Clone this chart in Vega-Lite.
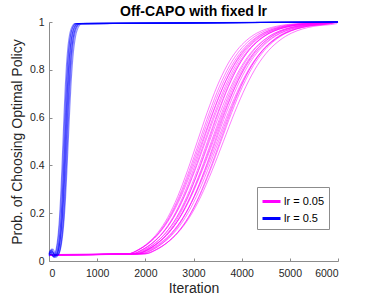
{
"$schema":"https://vega.github.io/schema/vega-lite/v6.json",
"autosize":{"type":"none"},
"width":289,"height":239,
"padding":{"left":49,"top":22,"right":36,"bottom":38},
"background":"white",
"config":{"view":{"stroke":null},"font":"Liberation Sans",
"axis":{"grid":false,"domainColor":"#8c8c8c","tickColor":"#8c8c8c","labelColor":"#262626","titleColor":"#262626","labelFont":"Liberation Sans","titleFont":"Liberation Sans","labelFontSize":10.5,"titleFontSize":14,"titleFontWeight":"normal","tickSize":-3,"domainWidth":1}},
"title":{"text":"Off-CAPO with fixed lr","font":"Liberation Sans","fontSize":14,"fontWeight":"bold","color":"#000000","frame":"group","anchor":"middle","offset":-2},
"datasets":{
"m":[
{"r":1,"x":0,"y":0.025},{"r":1,"x":1645,"y":0.03},{"r":1,"x":1850,"y":0.047},{"r":1,"x":2055,"y":0.076},{"r":1,"x":2260,"y":0.119},{"r":1,"x":2465,"y":0.182},{"r":1,"x":2670,"y":0.269},{"r":1,"x":2875,"y":0.378},{"r":1,"x":3080,"y":0.5},{"r":1,"x":3285,"y":0.622},{"r":1,"x":3490,"y":0.731},{"r":1,"x":3695,"y":0.818},{"r":1,"x":3900,"y":0.881},{"r":1,"x":4105,"y":0.924},{"r":1,"x":4310,"y":0.953},{"r":1,"x":4515,"y":0.971},{"r":1,"x":4720,"y":0.982},{"r":1,"x":5130,"y":0.993},{"r":1,"x":6000,"y":1},
{"r":2,"x":0,"y":0.026},{"r":2,"x":1645,"y":0.03},{"r":2,"x":1860,"y":0.047},{"r":2,"x":2075,"y":0.076},{"r":2,"x":2290,"y":0.119},{"r":2,"x":2505,"y":0.182},{"r":2,"x":2720,"y":0.269},{"r":2,"x":2935,"y":0.378},{"r":2,"x":3150,"y":0.5},{"r":2,"x":3365,"y":0.622},{"r":2,"x":3580,"y":0.731},{"r":2,"x":3795,"y":0.818},{"r":2,"x":4010,"y":0.881},{"r":2,"x":4225,"y":0.924},{"r":2,"x":4440,"y":0.953},{"r":2,"x":4655,"y":0.971},{"r":2,"x":4870,"y":0.982},{"r":2,"x":5300,"y":0.993},{"r":2,"x":6000,"y":1},
{"r":3,"x":0,"y":0.027},{"r":3,"x":1730,"y":0.03},{"r":3,"x":1940,"y":0.047},{"r":3,"x":2150,"y":0.076},{"r":3,"x":2360,"y":0.119},{"r":3,"x":2570,"y":0.182},{"r":3,"x":2780,"y":0.269},{"r":3,"x":2990,"y":0.378},{"r":3,"x":3200,"y":0.5},{"r":3,"x":3410,"y":0.622},{"r":3,"x":3620,"y":0.731},{"r":3,"x":3830,"y":0.818},{"r":3,"x":4040,"y":0.881},{"r":3,"x":4250,"y":0.924},{"r":3,"x":4460,"y":0.953},{"r":3,"x":4670,"y":0.971},{"r":3,"x":4880,"y":0.982},{"r":3,"x":5300,"y":0.993},{"r":3,"x":6000,"y":1},
{"r":4,"x":0,"y":0.025},{"r":4,"x":1710,"y":0.03},{"r":4,"x":1930,"y":0.047},{"r":4,"x":2150,"y":0.076},{"r":4,"x":2370,"y":0.119},{"r":4,"x":2590,"y":0.182},{"r":4,"x":2810,"y":0.269},{"r":4,"x":3030,"y":0.378},{"r":4,"x":3250,"y":0.5},{"r":4,"x":3470,"y":0.622},{"r":4,"x":3690,"y":0.731},{"r":4,"x":3910,"y":0.818},{"r":4,"x":4130,"y":0.881},{"r":4,"x":4350,"y":0.924},{"r":4,"x":4570,"y":0.953},{"r":4,"x":4790,"y":0.971},{"r":4,"x":5010,"y":0.982},{"r":4,"x":5450,"y":0.993},{"r":4,"x":6000,"y":1},
{"r":5,"x":0,"y":0.024},{"r":5,"x":1785,"y":0.03},{"r":5,"x":2000,"y":0.047},{"r":5,"x":2215,"y":0.076},{"r":5,"x":2430,"y":0.119},{"r":5,"x":2645,"y":0.182},{"r":5,"x":2860,"y":0.269},{"r":5,"x":3075,"y":0.378},{"r":5,"x":3290,"y":0.5},{"r":5,"x":3505,"y":0.622},{"r":5,"x":3720,"y":0.731},{"r":5,"x":3935,"y":0.818},{"r":5,"x":4150,"y":0.881},{"r":5,"x":4365,"y":0.924},{"r":5,"x":4580,"y":0.953},{"r":5,"x":4795,"y":0.971},{"r":5,"x":5010,"y":0.982},{"r":5,"x":5440,"y":0.993},{"r":5,"x":6000,"y":1},
{"r":6,"x":0,"y":0.026},{"r":6,"x":1755,"y":0.03},{"r":6,"x":1980,"y":0.047},{"r":6,"x":2205,"y":0.076},{"r":6,"x":2430,"y":0.119},{"r":6,"x":2655,"y":0.182},{"r":6,"x":2880,"y":0.269},{"r":6,"x":3105,"y":0.378},{"r":6,"x":3330,"y":0.5},{"r":6,"x":3555,"y":0.622},{"r":6,"x":3780,"y":0.731},{"r":6,"x":4005,"y":0.818},{"r":6,"x":4230,"y":0.881},{"r":6,"x":4455,"y":0.924},{"r":6,"x":4680,"y":0.953},{"r":6,"x":4905,"y":0.971},{"r":6,"x":5130,"y":0.982},{"r":6,"x":5580,"y":0.993},{"r":6,"x":6000,"y":1},
{"r":7,"x":0,"y":0.027},{"r":7,"x":1830,"y":0.03},{"r":7,"x":2050,"y":0.047},{"r":7,"x":2270,"y":0.076},{"r":7,"x":2490,"y":0.119},{"r":7,"x":2710,"y":0.182},{"r":7,"x":2930,"y":0.269},{"r":7,"x":3150,"y":0.378},{"r":7,"x":3370,"y":0.5},{"r":7,"x":3590,"y":0.622},{"r":7,"x":3810,"y":0.731},{"r":7,"x":4030,"y":0.818},{"r":7,"x":4250,"y":0.881},{"r":7,"x":4470,"y":0.924},{"r":7,"x":4690,"y":0.953},{"r":7,"x":4910,"y":0.971},{"r":7,"x":5130,"y":0.982},{"r":7,"x":5570,"y":0.993},{"r":7,"x":6000,"y":1},
{"r":8,"x":0,"y":0.025},{"r":8,"x":1800,"y":0.03},{"r":8,"x":2030,"y":0.047},{"r":8,"x":2260,"y":0.076},{"r":8,"x":2490,"y":0.119},{"r":8,"x":2720,"y":0.182},{"r":8,"x":2950,"y":0.269},{"r":8,"x":3180,"y":0.378},{"r":8,"x":3410,"y":0.5},{"r":8,"x":3640,"y":0.622},{"r":8,"x":3870,"y":0.731},{"r":8,"x":4100,"y":0.818},{"r":8,"x":4330,"y":0.881},{"r":8,"x":4560,"y":0.924},{"r":8,"x":4790,"y":0.953},{"r":8,"x":5020,"y":0.971},{"r":8,"x":5250,"y":0.982},{"r":8,"x":5710,"y":0.993},{"r":8,"x":6000,"y":1},
{"r":9,"x":0,"y":0.026},{"r":9,"x":1885,"y":0.03},{"r":9,"x":2110,"y":0.047},{"r":9,"x":2335,"y":0.076},{"r":9,"x":2560,"y":0.119},{"r":9,"x":2785,"y":0.182},{"r":9,"x":3010,"y":0.269},{"r":9,"x":3235,"y":0.378},{"r":9,"x":3460,"y":0.5},{"r":9,"x":3685,"y":0.622},{"r":9,"x":3910,"y":0.731},{"r":9,"x":4135,"y":0.818},{"r":9,"x":4360,"y":0.881},{"r":9,"x":4585,"y":0.924},{"r":9,"x":4810,"y":0.953},{"r":9,"x":5035,"y":0.971},{"r":9,"x":5260,"y":0.982},{"r":9,"x":5710,"y":0.993},{"r":9,"x":6000,"y":1},
{"r":10,"x":0,"y":0.024},{"r":10,"x":1910,"y":0.03},{"r":10,"x":2140,"y":0.047},{"r":10,"x":2370,"y":0.076},{"r":10,"x":2600,"y":0.119},{"r":10,"x":2830,"y":0.182},{"r":10,"x":3060,"y":0.269},{"r":10,"x":3290,"y":0.378},{"r":10,"x":3520,"y":0.5},{"r":10,"x":3750,"y":0.622},{"r":10,"x":3980,"y":0.731},{"r":10,"x":4210,"y":0.818},{"r":10,"x":4440,"y":0.881},{"r":10,"x":4670,"y":0.924},{"r":10,"x":4900,"y":0.953},{"r":10,"x":5130,"y":0.971},{"r":10,"x":5360,"y":0.982},{"r":10,"x":5820,"y":0.993},{"r":10,"x":6000,"y":1},
{"r":11,"x":0,"y":0.026},{"r":11,"x":1995,"y":0.03},{"r":11,"x":2220,"y":0.047},{"r":11,"x":2445,"y":0.076},{"r":11,"x":2670,"y":0.119},{"r":11,"x":2895,"y":0.182},{"r":11,"x":3120,"y":0.269},{"r":11,"x":3345,"y":0.378},{"r":11,"x":3570,"y":0.5},{"r":11,"x":3795,"y":0.622},{"r":11,"x":4020,"y":0.731},{"r":11,"x":4245,"y":0.818},{"r":11,"x":4470,"y":0.881},{"r":11,"x":4695,"y":0.924},{"r":11,"x":4920,"y":0.953},{"r":11,"x":5145,"y":0.971},{"r":11,"x":5370,"y":0.982},{"r":11,"x":5820,"y":0.993},{"r":11,"x":6000,"y":1},
{"r":12,"x":0,"y":0.027},{"r":12,"x":1975,"y":0.03},{"r":12,"x":2210,"y":0.047},{"r":12,"x":2445,"y":0.076},{"r":12,"x":2680,"y":0.119},{"r":12,"x":2915,"y":0.182},{"r":12,"x":3150,"y":0.269},{"r":12,"x":3385,"y":0.378},{"r":12,"x":3620,"y":0.5},{"r":12,"x":3855,"y":0.622},{"r":12,"x":4090,"y":0.731},{"r":12,"x":4325,"y":0.818},{"r":12,"x":4560,"y":0.881},{"r":12,"x":4795,"y":0.924},{"r":12,"x":5030,"y":0.953},{"r":12,"x":5265,"y":0.971},{"r":12,"x":5500,"y":0.982},{"r":12,"x":5970,"y":0.993},{"r":12,"x":6000,"y":1},
{"r":13,"x":0,"y":0.025},{"r":13,"x":1650,"y":0.03},{"r":13,"x":1860,"y":0.047},{"r":13,"x":2070,"y":0.076},{"r":13,"x":2280,"y":0.119},{"r":13,"x":2490,"y":0.182},{"r":13,"x":2700,"y":0.269},{"r":13,"x":2910,"y":0.378},{"r":13,"x":3120,"y":0.5},{"r":13,"x":3330,"y":0.622},{"r":13,"x":3540,"y":0.731},{"r":13,"x":3750,"y":0.818},{"r":13,"x":3960,"y":0.881},{"r":13,"x":4170,"y":0.924},{"r":13,"x":4380,"y":0.953},{"r":13,"x":4590,"y":0.971},{"r":13,"x":4800,"y":0.982},{"r":13,"x":5220,"y":0.993},{"r":13,"x":6000,"y":1},
{"r":14,"x":0,"y":0.026},{"r":14,"x":1640,"y":0.03},{"r":14,"x":1860,"y":0.047},{"r":14,"x":2080,"y":0.076},{"r":14,"x":2300,"y":0.119},{"r":14,"x":2520,"y":0.182},{"r":14,"x":2740,"y":0.269},{"r":14,"x":2960,"y":0.378},{"r":14,"x":3180,"y":0.5},{"r":14,"x":3400,"y":0.622},{"r":14,"x":3620,"y":0.731},{"r":14,"x":3840,"y":0.818},{"r":14,"x":4060,"y":0.881},{"r":14,"x":4280,"y":0.924},{"r":14,"x":4500,"y":0.953},{"r":14,"x":4720,"y":0.971},{"r":14,"x":4940,"y":0.982},{"r":14,"x":5380,"y":0.993},{"r":14,"x":6000,"y":1},
{"r":15,"x":0,"y":0.025},{"r":15,"x":1725,"y":0.03},{"r":15,"x":1940,"y":0.047},{"r":15,"x":2155,"y":0.076},{"r":15,"x":2370,"y":0.119},{"r":15,"x":2585,"y":0.182},{"r":15,"x":2800,"y":0.269},{"r":15,"x":3015,"y":0.378},{"r":15,"x":3230,"y":0.5},{"r":15,"x":3445,"y":0.622},{"r":15,"x":3660,"y":0.731},{"r":15,"x":3875,"y":0.818},{"r":15,"x":4090,"y":0.881},{"r":15,"x":4305,"y":0.924},{"r":15,"x":4520,"y":0.953},{"r":15,"x":4735,"y":0.971},{"r":15,"x":4950,"y":0.982},{"r":15,"x":5380,"y":0.993},{"r":15,"x":6000,"y":1},
{"r":16,"x":0,"y":0.027},{"r":16,"x":1840,"y":0.03},{"r":16,"x":2050,"y":0.047},{"r":16,"x":2260,"y":0.076},{"r":16,"x":2470,"y":0.119},{"r":16,"x":2680,"y":0.182},{"r":16,"x":2890,"y":0.269},{"r":16,"x":3100,"y":0.378},{"r":16,"x":3310,"y":0.5},{"r":16,"x":3520,"y":0.622},{"r":16,"x":3730,"y":0.731},{"r":16,"x":3940,"y":0.818},{"r":16,"x":4150,"y":0.881},{"r":16,"x":4360,"y":0.924},{"r":16,"x":4570,"y":0.953},{"r":16,"x":4780,"y":0.971},{"r":16,"x":4990,"y":0.982},{"r":16,"x":5410,"y":0.993},{"r":16,"x":6000,"y":1},
{"r":17,"x":0,"y":0.025},{"r":17,"x":1815,"y":0.03},{"r":17,"x":2040,"y":0.047},{"r":17,"x":2265,"y":0.076},{"r":17,"x":2490,"y":0.119},{"r":17,"x":2715,"y":0.182},{"r":17,"x":2940,"y":0.269},{"r":17,"x":3165,"y":0.378},{"r":17,"x":3390,"y":0.5},{"r":17,"x":3615,"y":0.622},{"r":17,"x":3840,"y":0.731},{"r":17,"x":4065,"y":0.818},{"r":17,"x":4290,"y":0.881},{"r":17,"x":4515,"y":0.924},{"r":17,"x":4740,"y":0.953},{"r":17,"x":4965,"y":0.971},{"r":17,"x":5190,"y":0.982},{"r":17,"x":5640,"y":0.993},{"r":17,"x":6000,"y":1},
{"r":18,"x":0,"y":0.026},{"r":18,"x":1935,"y":0.03},{"r":18,"x":2150,"y":0.047},{"r":18,"x":2365,"y":0.076},{"r":18,"x":2580,"y":0.119},{"r":18,"x":2795,"y":0.182},{"r":18,"x":3010,"y":0.269},{"r":18,"x":3225,"y":0.378},{"r":18,"x":3440,"y":0.5},{"r":18,"x":3655,"y":0.622},{"r":18,"x":3870,"y":0.731},{"r":18,"x":4085,"y":0.818},{"r":18,"x":4300,"y":0.881},{"r":18,"x":4515,"y":0.924},{"r":18,"x":4730,"y":0.953},{"r":18,"x":4945,"y":0.971},{"r":18,"x":5160,"y":0.982},{"r":18,"x":5590,"y":0.993},{"r":18,"x":6000,"y":1},
{"r":19,"x":0,"y":0.025},{"r":19,"x":1845,"y":0.03},{"r":19,"x":2080,"y":0.047},{"r":19,"x":2315,"y":0.076},{"r":19,"x":2550,"y":0.119},{"r":19,"x":2785,"y":0.182},{"r":19,"x":3020,"y":0.269},{"r":19,"x":3255,"y":0.378},{"r":19,"x":3490,"y":0.5},{"r":19,"x":3725,"y":0.622},{"r":19,"x":3960,"y":0.731},{"r":19,"x":4195,"y":0.818},{"r":19,"x":4430,"y":0.881},{"r":19,"x":4665,"y":0.924},{"r":19,"x":4900,"y":0.953},{"r":19,"x":5135,"y":0.971},{"r":19,"x":5370,"y":0.982},{"r":19,"x":5840,"y":0.993},{"r":19,"x":6000,"y":1},
{"r":20,"x":0,"y":0.026},{"r":20,"x":2010,"y":0.03},{"r":20,"x":2230,"y":0.047},{"r":20,"x":2450,"y":0.076},{"r":20,"x":2670,"y":0.119},{"r":20,"x":2890,"y":0.182},{"r":20,"x":3110,"y":0.269},{"r":20,"x":3330,"y":0.378},{"r":20,"x":3550,"y":0.5},{"r":20,"x":3770,"y":0.622},{"r":20,"x":3990,"y":0.731},{"r":20,"x":4210,"y":0.818},{"r":20,"x":4430,"y":0.881},{"r":20,"x":4650,"y":0.924},{"r":20,"x":4870,"y":0.953},{"r":20,"x":5090,"y":0.971},{"r":20,"x":5310,"y":0.982},{"r":20,"x":5750,"y":0.993},{"r":20,"x":6000,"y":1}
],
"b":[
{"r":1,"x":0,"y":0.03},{"r":1,"x":40,"y":0.045},{"r":1,"x":80,"y":0.02},{"r":1,"x":122,"y":0.03},{"r":1,"x":146,"y":0.047},{"r":1,"x":170,"y":0.076},{"r":1,"x":194,"y":0.119},{"r":1,"x":218,"y":0.182},{"r":1,"x":242,"y":0.269},{"r":1,"x":266,"y":0.378},{"r":1,"x":290,"y":0.5},{"r":1,"x":314,"y":0.622},{"r":1,"x":338,"y":0.731},{"r":1,"x":362,"y":0.818},{"r":1,"x":386,"y":0.881},{"r":1,"x":410,"y":0.924},{"r":1,"x":434,"y":0.953},{"r":1,"x":458,"y":0.971},{"r":1,"x":482,"y":0.982},{"r":1,"x":530,"y":0.993},{"r":1,"x":6000,"y":1},
{"r":2,"x":0,"y":0.025},{"r":2,"x":50,"y":0.035},{"r":2,"x":100,"y":0.018},{"r":2,"x":130,"y":0.03},{"r":2,"x":155,"y":0.047},{"r":2,"x":180,"y":0.076},{"r":2,"x":205,"y":0.119},{"r":2,"x":230,"y":0.182},{"r":2,"x":255,"y":0.269},{"r":2,"x":280,"y":0.378},{"r":2,"x":305,"y":0.5},{"r":2,"x":330,"y":0.622},{"r":2,"x":355,"y":0.731},{"r":2,"x":380,"y":0.818},{"r":2,"x":405,"y":0.881},{"r":2,"x":430,"y":0.924},{"r":2,"x":455,"y":0.953},{"r":2,"x":480,"y":0.971},{"r":2,"x":505,"y":0.982},{"r":2,"x":555,"y":0.993},{"r":2,"x":6000,"y":1},
{"r":3,"x":0,"y":0.035},{"r":3,"x":60,"y":0.05},{"r":3,"x":110,"y":0.022},{"r":3,"x":159,"y":0.03},{"r":3,"x":182,"y":0.047},{"r":3,"x":205,"y":0.076},{"r":3,"x":228,"y":0.119},{"r":3,"x":251,"y":0.182},{"r":3,"x":274,"y":0.269},{"r":3,"x":297,"y":0.378},{"r":3,"x":320,"y":0.5},{"r":3,"x":343,"y":0.622},{"r":3,"x":366,"y":0.731},{"r":3,"x":389,"y":0.818},{"r":3,"x":412,"y":0.881},{"r":3,"x":435,"y":0.924},{"r":3,"x":458,"y":0.953},{"r":3,"x":481,"y":0.971},{"r":3,"x":504,"y":0.982},{"r":3,"x":550,"y":0.993},{"r":3,"x":6000,"y":1},
{"r":4,"x":0,"y":0.02},{"r":4,"x":45,"y":0.03},{"r":4,"x":100,"y":0.015},{"r":4,"x":148,"y":0.03},{"r":4,"x":174,"y":0.047},{"r":4,"x":200,"y":0.076},{"r":4,"x":226,"y":0.119},{"r":4,"x":252,"y":0.182},{"r":4,"x":278,"y":0.269},{"r":4,"x":304,"y":0.378},{"r":4,"x":330,"y":0.5},{"r":4,"x":356,"y":0.622},{"r":4,"x":382,"y":0.731},{"r":4,"x":408,"y":0.818},{"r":4,"x":434,"y":0.881},{"r":4,"x":460,"y":0.924},{"r":4,"x":486,"y":0.953},{"r":4,"x":512,"y":0.971},{"r":4,"x":538,"y":0.982},{"r":4,"x":590,"y":0.993},{"r":4,"x":6000,"y":1},
{"r":5,"x":0,"y":0.03},{"r":5,"x":70,"y":0.04},{"r":5,"x":130,"y":0.02},{"r":5,"x":172,"y":0.03},{"r":5,"x":196,"y":0.047},{"r":5,"x":220,"y":0.076},{"r":5,"x":244,"y":0.119},{"r":5,"x":268,"y":0.182},{"r":5,"x":292,"y":0.269},{"r":5,"x":316,"y":0.378},{"r":5,"x":340,"y":0.5},{"r":5,"x":364,"y":0.622},{"r":5,"x":388,"y":0.731},{"r":5,"x":412,"y":0.818},{"r":5,"x":436,"y":0.881},{"r":5,"x":460,"y":0.924},{"r":5,"x":484,"y":0.953},{"r":5,"x":508,"y":0.971},{"r":5,"x":532,"y":0.982},{"r":5,"x":580,"y":0.993},{"r":5,"x":6000,"y":1},
{"r":6,"x":0,"y":0.028},{"r":6,"x":55,"y":0.045},{"r":6,"x":120,"y":0.025},{"r":6,"x":175,"y":0.03},{"r":6,"x":200,"y":0.047},{"r":6,"x":225,"y":0.076},{"r":6,"x":250,"y":0.119},{"r":6,"x":275,"y":0.182},{"r":6,"x":300,"y":0.269},{"r":6,"x":325,"y":0.378},{"r":6,"x":350,"y":0.5},{"r":6,"x":375,"y":0.622},{"r":6,"x":400,"y":0.731},{"r":6,"x":425,"y":0.818},{"r":6,"x":450,"y":0.881},{"r":6,"x":475,"y":0.924},{"r":6,"x":500,"y":0.953},{"r":6,"x":525,"y":0.971},{"r":6,"x":550,"y":0.982},{"r":6,"x":600,"y":0.993},{"r":6,"x":6000,"y":1},
{"r":7,"x":0,"y":0.022},{"r":7,"x":40,"y":0.03},{"r":7,"x":110,"y":0.018},{"r":7,"x":171,"y":0.03},{"r":7,"x":198,"y":0.047},{"r":7,"x":225,"y":0.076},{"r":7,"x":252,"y":0.119},{"r":7,"x":279,"y":0.182},{"r":7,"x":306,"y":0.269},{"r":7,"x":333,"y":0.378},{"r":7,"x":360,"y":0.5},{"r":7,"x":387,"y":0.622},{"r":7,"x":414,"y":0.731},{"r":7,"x":441,"y":0.818},{"r":7,"x":468,"y":0.881},{"r":7,"x":495,"y":0.924},{"r":7,"x":522,"y":0.953},{"r":7,"x":549,"y":0.971},{"r":7,"x":576,"y":0.982},{"r":7,"x":630,"y":0.993},{"r":7,"x":6000,"y":1},
{"r":8,"x":0,"y":0.032},{"r":8,"x":60,"y":0.038},{"r":8,"x":140,"y":0.02},{"r":8,"x":197,"y":0.03},{"r":8,"x":222,"y":0.047},{"r":8,"x":247,"y":0.076},{"r":8,"x":272,"y":0.119},{"r":8,"x":297,"y":0.182},{"r":8,"x":322,"y":0.269},{"r":8,"x":347,"y":0.378},{"r":8,"x":372,"y":0.5},{"r":8,"x":397,"y":0.622},{"r":8,"x":422,"y":0.731},{"r":8,"x":447,"y":0.818},{"r":8,"x":472,"y":0.881},{"r":8,"x":497,"y":0.924},{"r":8,"x":522,"y":0.953},{"r":8,"x":547,"y":0.971},{"r":8,"x":572,"y":0.982},{"r":8,"x":622,"y":0.993},{"r":8,"x":6000,"y":1},
{"r":9,"x":0,"y":0.025},{"r":9,"x":80,"y":0.05},{"r":9,"x":150,"y":0.022},{"r":9,"x":203,"y":0.03},{"r":9,"x":229,"y":0.047},{"r":9,"x":255,"y":0.076},{"r":9,"x":281,"y":0.119},{"r":9,"x":307,"y":0.182},{"r":9,"x":333,"y":0.269},{"r":9,"x":359,"y":0.378},{"r":9,"x":385,"y":0.5},{"r":9,"x":411,"y":0.622},{"r":9,"x":437,"y":0.731},{"r":9,"x":463,"y":0.818},{"r":9,"x":489,"y":0.881},{"r":9,"x":515,"y":0.924},{"r":9,"x":541,"y":0.953},{"r":9,"x":567,"y":0.971},{"r":9,"x":593,"y":0.982},{"r":9,"x":645,"y":0.993},{"r":9,"x":6000,"y":1},
{"r":10,"x":0,"y":0.03},{"r":10,"x":50,"y":0.025},{"r":10,"x":130,"y":0.015},{"r":10,"x":207,"y":0.03},{"r":10,"x":235,"y":0.047},{"r":10,"x":262,"y":0.076},{"r":10,"x":290,"y":0.119},{"r":10,"x":317,"y":0.182},{"r":10,"x":345,"y":0.269},{"r":10,"x":372,"y":0.378},{"r":10,"x":400,"y":0.5},{"r":10,"x":428,"y":0.622},{"r":10,"x":455,"y":0.731},{"r":10,"x":483,"y":0.818},{"r":10,"x":510,"y":0.881},{"r":10,"x":538,"y":0.924},{"r":10,"x":565,"y":0.953},{"r":10,"x":593,"y":0.971},{"r":10,"x":620,"y":0.982},{"r":10,"x":675,"y":0.993},{"r":10,"x":6000,"y":1}
]},
"encoding":{
"x":{"field":"x","type":"quantitative","scale":{"domain":[0,6000],"nice":false,"zero":false},"axis":{"values":[0,1000,2000,3000,4000,5000,6000],"format":"d","title":"Iteration","labelPadding":10,"titlePadding":3}},
"y":{"field":"y","type":"quantitative","scale":{"domain":[0,1],"nice":false},"axis":{"values":[0,0.2,0.4,0.6,0.8,1],"format":"~g","title":"Prob. of Choosing Optimal Policy","labelPadding":8,"titlePadding":5}}
},
"layer":[
{"data":{"name":"m"},"mark":{"type":"line","interpolate":"monotone","strokeWidth":0.8,"opacity":0.65},
"encoding":{"detail":{"field":"r","type":"nominal"},
"color":{"datum":"lr = 0.05","type":"nominal","scale":{"domain":["lr = 0.05","lr = 0.5"],"range":["#ff00ff","#0000ff"]},
"legend":{"title":null,"orient":"none","legendX":208,"legendY":165,"symbolType":"stroke","symbolSize":324,"symbolStrokeWidth":3,"symbolOpacity":1,"labelFontSize":11,"labelFont":"Liberation Sans","labelColor":"#000000","labelOffset":2,"padding":4,"fillColor":"white","strokeColor":"#8c8c8c","rowPadding":0,
"encode":{"symbols":{"update":{"opacity":{"value":1},"strokeOpacity":{"value":1}}}}}}}},
{"data":{"name":"b"},"mark":{"type":"line","interpolate":"monotone","strokeWidth":1.1,"opacity":0.45},
"encoding":{"detail":{"field":"r","type":"nominal"},
"color":{"datum":"lr = 0.5","type":"nominal"}}}
]
}
